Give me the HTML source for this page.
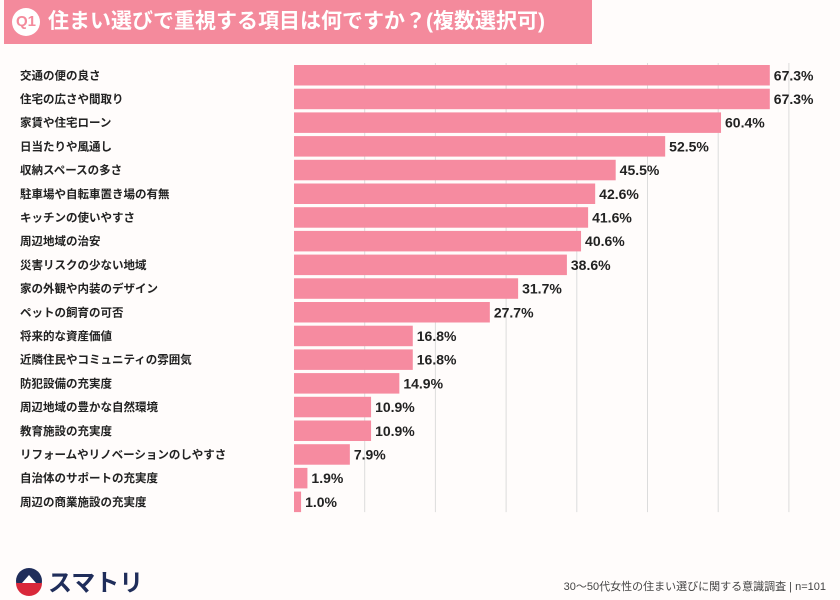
<!DOCTYPE html>
<html><head><meta charset="utf-8"><style>
body{margin:0;width:840px;height:600px;background:#fffcfb;font-family:"Liberation Sans","Noto Sans CJK JP",sans-serif;overflow:hidden;position:relative}
#hdr{position:absolute;left:4px;top:0;width:588px;height:44px;background:#f48a9c}
#q1{position:absolute;left:8px;top:8px;width:28px;height:28px;border-radius:50%;background:#fff;color:#f48a9c;font-weight:bold;font-size:15px;line-height:28px;text-align:center}
#ttl{position:absolute;left:44px;top:6px;color:#fff;font-size:21px;font-weight:bold;line-height:32px;white-space:nowrap}
#foot{position:absolute;right:14px;top:578px;font-size:11px;color:#444}
#logo{position:absolute;left:14px;top:563px;font-size:24px;font-weight:bold;color:#1f2d5a;display:flex;align-items:center;gap:4px}
</style></head><body>
<div id="hdr"><div id="q1">Q1</div><div id="ttl">住まい選びで重視する項目は何ですか？(複数選択可)</div></div>
<svg id="chart" width="840" height="600" style="position:absolute;left:0;top:0"></svg>
<div id="logo"><svg width="30" height="30"><circle cx="15" cy="15" r="13" fill="#1f2d5a"/><path d="M2 17 A13 13 0 0 0 28 17 Z" fill="#d9283a"/><path d="M8 17 L15 9 L22 17 Z" fill="#fff"/></svg>スマトリ</div>
<div id="foot">30～50代女性の住まい選びに関する意識調査 | n=101</div>
<script>
const categories=["交通の便の良さ","住宅の広さや間取り","家賃や住宅ローン","日当たりや風通し","収納スペースの多さ","駐車場や自転車置き場の有無","キッチンの使いやすさ","周辺地域の治安","災害リスクの少ない地域","家の外観や内装のデザイン","ペットの飼育の可否","将来的な資産価値","近隣住民やコミュニティの雰囲気","防犯設備の充実度","周辺地域の豊かな自然環境","教育施設の充実度","リフォームやリノベーションのしやすさ","自治体のサポートの充実度","周辺の商業施設の充実度"];
const values=[67.3,67.3,60.4,52.5,45.5,42.6,41.6,40.6,38.6,31.7,27.7,16.8,16.8,14.9,10.9,10.9,7.9,1.9,1.0];
const gridTicks=[10,20,30,40,50,60,70];
const svg=document.getElementById('chart');
const NS='http://www.w3.org/2000/svg';
const x0=294,pxPer=7.07,y0=65,pitch=23.7,bh=20.5;
const xs=v=>x0+v*pxPer, ys=i=>y0+i*pitch;
function mk(t,a){const e=document.createElementNS(NS,t);for(const k in a)e.setAttribute(k,a[k]);svg.appendChild(e);return e;}
const bottom=ys(categories.length-1)+bh;
gridTicks.forEach(t=>{const l=mk('line',{x1:xs(t),x2:xs(t),y1:y0-2,y2:bottom,stroke:'#dcdcdc','stroke-width':1});

});
categories.forEach((c,i)=>{
const t=mk('text',{x:20,y:ys(i)+bh/2+4,'font-size':11.5,'font-weight':'bold',fill:'#222'});t.textContent=c;


const r=mk('rect',{x:x0,y:ys(i),width:values[i]*pxPer,height:bh,fill:'#f68ba0'});


const v=mk('text',{x:xs(values[i])+4,y:ys(i)+bh/2+5,'font-size':14,'font-weight':'bold',fill:'#222'});v.textContent=values[i].toFixed(1)+'%';


});
</script>
</body></html>
